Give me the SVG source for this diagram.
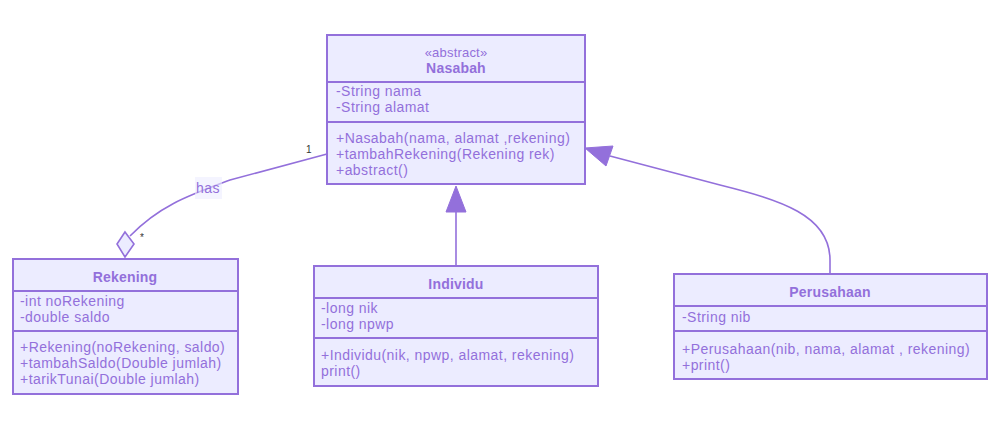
<svg xmlns="http://www.w3.org/2000/svg" width="1001" height="430" viewBox="0 0 1001 430">
<defs>
<style>
.box{fill:#ECECFF;stroke:#9370DB;stroke-width:2}
.div{stroke:#9370DB;stroke-width:2}
text{font-family:"Liberation Sans",Arial,sans-serif;font-size:14px;fill:#9370DB;letter-spacing:0.45px}
.t{font-weight:bold;text-anchor:middle;letter-spacing:0.2px}
.st{text-anchor:middle;font-size:13px;letter-spacing:0.2px}
.edge{fill:none;stroke:#9370DB;stroke-width:1.6}
.card{fill:#333;font-size:10px;letter-spacing:0}
</style>
</defs>
<rect width="1001" height="430" fill="#fff"/>
<g id="connectors">
<path class="edge" d="M130,236 C160,205 190,195 230,180 L327,154"/>
<path d="M125,232 L134,244 L125,257 L117,244 Z" fill="#ECECFF" stroke="#9370DB" stroke-width="1.6"/>
<rect x="195" y="177" width="27" height="22" fill="#ECECFF" opacity="0.6"/>
<text x="208" y="193" text-anchor="middle">has</text>
<text class="card" x="306" y="153">1</text>
<text class="card" x="140" y="241">*</text>
<path class="edge" d="M456,266 L456,212"/>
<path d="M456,186 L466,212 L446,212 Z" fill="#9370DB" stroke="#9370DB"/>
<path class="edge" d="M830,274 L830,260 C830,215 780,200 720,185 L610,156"/>
<path d="M585,148 L613,146 L606,166 Z" fill="#9370DB" stroke="#9370DB"/>
</g>
<g id="Nasabah">
<rect class="box" x="327" y="35" width="258" height="149"/>
<line class="div" x1="327" y1="82" x2="585" y2="82"/>
<line class="div" x1="327" y1="122" x2="585" y2="122"/>
<text class="st" x="456" y="57">«abstract»</text>
<text class="t" x="456" y="73">Nasabah</text>
<text x="336" y="96">-String nama</text>
<text x="336" y="112">-String alamat</text>
<text x="336" y="143">+Nasabah(nama, alamat ,rekening)</text>
<text x="336" y="159">+tambahRekening(Rekening rek)</text>
<text x="336" y="175">+abstract()</text>
</g>
<g id="Rekening">
<rect class="box" x="13" y="259" width="225" height="135"/>
<line class="div" x1="13" y1="291" x2="238" y2="291"/>
<line class="div" x1="13" y1="331" x2="238" y2="331"/>
<text class="t" x="125" y="282">Rekening</text>
<text x="20" y="306">-int noRekening</text>
<text x="20" y="322">-double saldo</text>
<text x="20" y="352">+Rekening(noRekening, saldo)</text>
<text x="20" y="368">+tambahSaldo(Double jumlah)</text>
<text x="20" y="384">+tarikTunai(Double jumlah)</text>
</g>
<g id="Individu">
<rect class="box" x="314" y="266" width="284" height="120"/>
<line class="div" x1="314" y1="298" x2="598" y2="298"/>
<line class="div" x1="314" y1="338" x2="598" y2="338"/>
<text class="t" x="456" y="289">Individu</text>
<text x="321" y="313">-long nik</text>
<text x="321" y="329">-long npwp</text>
<text x="321" y="360">+Individu(nik, npwp, alamat, rekening)</text>
<text x="321" y="376">print()</text>
</g>
<g id="Perusahaan">
<rect class="box" x="674" y="274" width="313" height="105"/>
<line class="div" x1="674" y1="306" x2="987" y2="306"/>
<line class="div" x1="674" y1="331" x2="987" y2="331"/>
<text class="t" x="830" y="297">Perusahaan</text>
<text x="682" y="322">-String nib</text>
<text x="682" y="354">+Perusahaan(nib, nama, alamat , rekening)</text>
<text x="682" y="370">+print()</text>
</g>
</svg>
